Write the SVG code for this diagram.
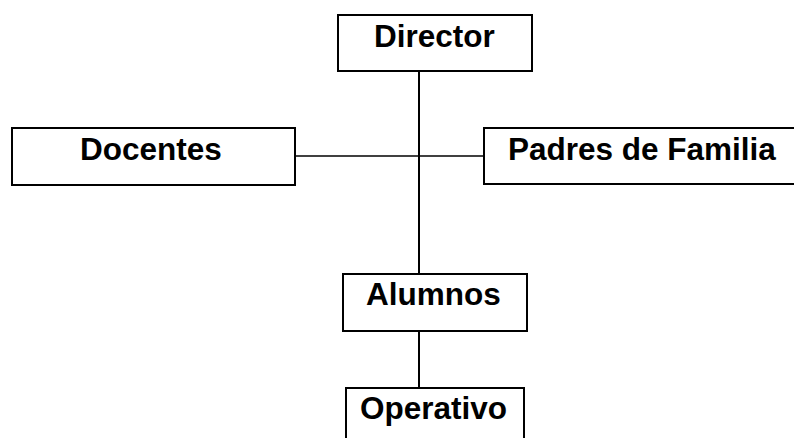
<svg xmlns="http://www.w3.org/2000/svg" width="794" height="438" viewBox="0 0 794 438">
<style>
.box{fill:#fff;stroke:#000;stroke-width:2}
.lbl{font-family:"Liberation Sans",Arial,sans-serif;font-weight:bold;font-size:31.5px;fill:#000}
.ln{stroke:#000;fill:none}
</style>
<rect width="794" height="438" fill="#fff"/>
<g id="connectors">
<line class="ln" x1="419" y1="72" x2="419" y2="274" stroke-width="2"/>
<line class="ln" x1="291" y1="156" x2="484" y2="156" stroke-width="1.5"/>
<line class="ln" x1="419" y1="331" x2="419" y2="388" stroke-width="2"/>
</g>
<g id="director">
<rect class="box" x="338" y="15" width="194" height="56"/>
<text class="lbl" x="374" y="47">Director</text>
</g>
<g id="docentes">
<rect class="box" x="12" y="128" width="283" height="57"/>
<text class="lbl" x="80" y="159.5">Docentes</text>
</g>
<g id="padres">
<rect class="box" x="484" y="128" width="330" height="56"/>
<text class="lbl" x="508" y="159.5">Padres de Familia</text>
</g>
<g id="alumnos">
<rect class="box" x="343" y="274" width="184" height="57"/>
<text class="lbl" x="366" y="305">Alumnos</text>
</g>
<g id="operativo">
<rect class="box" x="346" y="388" width="178" height="70"/>
<text class="lbl" x="360" y="419">Operativo</text>
</g>
</svg>
